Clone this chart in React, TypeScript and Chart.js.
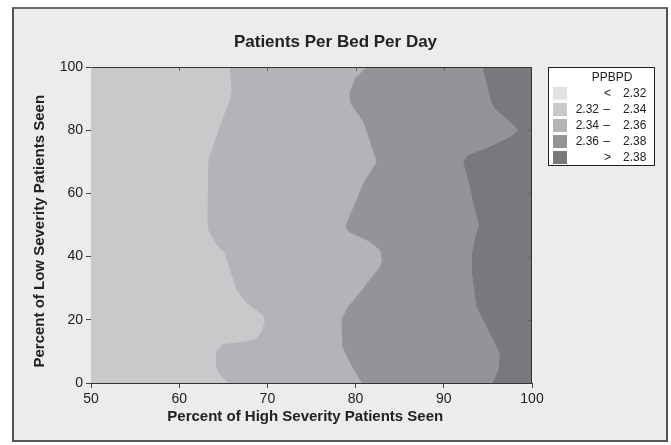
import React, { useEffect, useRef } from 'react';
import { Chart, registerables } from 'chart.js';

Chart.register(...registerables);

const FONT = '"Liberation Sans", Arial, Helvetica, sans-serif';

const chartTitle = 'Patients Per Bed Per Day';
const xTitle = 'Percent of High Severity Patients Seen';
const yTitle = 'Percent of Low Severity Patients Seen';
const legendTitle = 'PPBPD';

const xTicks = [50, 60, 70, 80, 90, 100];
const yTicks = [0, 20, 40, 60, 80, 100];

// contour levels and the fill colour of each band (< 2.32 ... > 2.38)
const levels = [2.32, 2.34, 2.36, 2.38];
const bandColors = ['#e1e2e4', '#c8c9cb', '#b3b4b8', '#939498', '#78797d'];

// contour line 2.34 (between band 2.32–2.34 and 2.34–2.36)
const c234Y = [0, 2.5, 5.2, 9.9, 12.3, 13.1, 13.8, 16.2, 19.4, 21.5, 25.2, 29.4, 35.8, 41, 43.7, 48.4, 51.6, 70.6, 82.7, 89.6, 92.7, 100];
const c234X = [65.57, 64.6, 64.17, 64.17, 65.0, 67.46, 68.6, 69.35, 69.7, 69.5, 67.65, 66.5, 65.76, 65.2, 64.25, 63.3, 63.2, 63.3, 64.8, 65.76, 65.95, 65.76];

// contour line 2.36
const c236Y = [0, 6.2, 11.5, 19.9, 23.6, 29.4, 36.8, 38.9, 42.1, 44.7, 47.9, 49.5, 57.9, 63.2, 70.0, 79.5, 82.7, 88.5, 91.7, 96.4, 100];
const c236X = [80.7, 79.4, 78.5, 78.4, 79.0, 80.7, 82.77, 83.0, 82.77, 81.6, 79.2, 78.8, 80.1, 80.87, 82.39, 81.26, 80.87, 79.4, 79.3, 79.93, 81.26];

// contour line 2.38
const c238Y = [0, 4.1, 8.9, 12.6, 18.9, 24.1, 34.7, 41.0, 45.3, 50.0, 56.9, 62.1, 70.0, 72.2, 74.8, 78.2, 80.1, 83.2, 86.9, 88.5, 94.8, 100];
const c238X = [95.5, 96.2, 96.37, 95.8, 94.67, 93.7, 93.2, 93.2, 93.5, 94.0, 93.35, 92.97, 92.2, 92.78, 95.24, 97.7, 98.45, 97.3, 95.8, 95.43, 94.86, 94.4];

const X_MIN = 50;
const X_MAX = 100;
const Y_MIN = 0;
const Y_MAX = 100;

function bandFromLine(xs: number[], ys: number[]) {
  const pts = xs.map((x, i) => ({ x, y: ys[i] }));
  pts.push({ x: X_MAX, y: Y_MAX });
  pts.push({ x: X_MAX, y: Y_MIN });
  return pts;
}

const legendPlugin = {
  id: 'contourLegend',
  afterDraw(chart: any) {
    const { ctx, chartArea } = chart;
    const bx = Math.round(chartArea.right) + 16;
    const by = Math.round(chartArea.top);
    const bw = 107;
    const bh = 99;
    ctx.save();
    ctx.fillStyle = '#ffffff';
    ctx.fillRect(bx, by, bw, bh);
    ctx.strokeStyle = '#222';
    ctx.lineWidth = 1;
    ctx.strokeRect(bx + 0.5, by + 0.5, bw - 1, bh - 1);
    ctx.fillStyle = '#222';
    ctx.font = `12px ${FONT}`;
    ctx.textBaseline = 'middle';
    ctx.textAlign = 'center';
    ctx.fillText(legendTitle, bx + 64, by + 11);
    for (let i = 0; i < bandColors.length; i++) {
      const top = by + 20 + i * 16;
      const cy = top + 6.5;
      ctx.fillStyle = bandColors[i];
      ctx.fillRect(bx + 5, top, 14, 13);
      ctx.fillStyle = '#222';
      if (i === 0) {
        ctx.textAlign = 'center';
        ctx.fillText('<', bx + 59.5, cy);
        ctx.textAlign = 'left';
        ctx.fillText(levels[0].toFixed(2), bx + 75, cy);
      } else if (i === bandColors.length - 1) {
        ctx.textAlign = 'center';
        ctx.fillText('>', bx + 59.5, cy);
        ctx.textAlign = 'left';
        ctx.fillText(levels[levels.length - 1].toFixed(2), bx + 75, cy);
      } else {
        ctx.textAlign = 'right';
        ctx.fillText(levels[i - 1].toFixed(2), bx + 51, cy);
        ctx.textAlign = 'center';
        ctx.fillText('–', bx + 58.5, cy);
        ctx.textAlign = 'left';
        ctx.fillText(levels[i].toFixed(2), bx + 75, cy);
      }
    }
    ctx.restore();
  },
};

const frameLinesPlugin = {
  id: 'frameLines',
  afterDatasetsDraw(chart: any) {
    const { ctx, chartArea, scales } = chart;
    ctx.save();
    ctx.strokeStyle = '#333';
    ctx.lineWidth = 1;
    ctx.beginPath();
    const l = Math.round(chartArea.left) + 0.5;
    const r = Math.round(chartArea.right) - 0.5;
    const t = Math.round(chartArea.top) + 0.5;
    ctx.moveTo(l, t);
    ctx.lineTo(r, t);
    ctx.lineTo(r, Math.round(chartArea.bottom));
    ctx.stroke();
    // small inward ticks on the top and right edges
    ctx.strokeStyle = '#555';
    ctx.beginPath();
    xTicks.slice(1, -1).forEach((v) => {
      const px = Math.round(scales.x.getPixelForValue(v)) + 0.5;
      ctx.moveTo(px, t);
      ctx.lineTo(px, t + 3);
    });
    yTicks.slice(1, -1).forEach((v) => {
      const py = Math.round(scales.y.getPixelForValue(v)) + 0.5;
      ctx.moveTo(r, py);
      ctx.lineTo(r - 3, py);
    });
    ctx.stroke();
    ctx.restore();
  },
};

export default function App() {
  const ref = useRef<HTMLCanvasElement>(null);

  useEffect(() => {
    if (!ref.current) return;
    const regions = [
      { data: bandFromLine(c238X, c238Y), color: bandColors[4] },
      { data: bandFromLine(c236X, c236Y), color: bandColors[3] },
      { data: bandFromLine(c234X, c234Y), color: bandColors[2] },
      {
        data: [
          { x: X_MIN, y: Y_MIN },
          { x: X_MIN, y: Y_MAX },
          { x: X_MAX, y: Y_MAX },
          { x: X_MAX, y: Y_MIN },
        ],
        color: bandColors[1],
      },
    ];
    const chart = new Chart(ref.current, {
      type: 'line',
      data: {
        datasets: regions.map((r) => ({
          data: r.data,
          backgroundColor: r.color,
          borderColor: 'rgba(0,0,0,0)',
          borderWidth: 0,
          pointRadius: 0,
          tension: 0,
          fill: 'shape',
        })),
      },
      options: {
        animation: false,
        responsive: false,
        events: [],
        layout: { padding: 0 },
        plugins: {
          legend: { display: false },
          tooltip: { enabled: false },
          title: {
            display: true,
            text: chartTitle,
            color: '#222',
            font: { family: FONT, size: 17, weight: 'bold' },
            padding: { top: 32, bottom: 14.6 },
          },
        },
        scales: {
          x: {
            type: 'linear',
            min: X_MIN,
            max: X_MAX,
            afterBuildTicks: (s: any) => {
              s.ticks = xTicks.map((v) => ({ value: v }));
            },
            ticks: { color: '#222', font: { family: FONT, size: 14 }, padding: 3, maxRotation: 0 },
            grid: { display: true, drawOnChartArea: false, drawTicks: true, tickLength: 5, color: '#444', tickColor: '#444' },
            border: { display: true, color: '#333', width: 1 },
            title: {
              display: true,
              text: xTitle + '\u00a0\u00a0\u00a0',
              color: '#222',
              font: { family: FONT, size: 15, weight: 'bold' },
              padding: { top: 0, bottom: 19 },
            },
            afterFit: (s: any) => {
              s.height = 62;
            },
          },
          y: {
            type: 'linear',
            position: 'left',
            min: Y_MIN,
            max: Y_MAX,
            afterBuildTicks: (s: any) => {
              s.ticks = yTicks.map((v) => ({ value: v }));
            },
            ticks: { color: '#222', font: { family: FONT, size: 14 }, padding: 3 },
            grid: { display: true, drawOnChartArea: false, drawTicks: true, tickLength: 5, color: '#444', tickColor: '#444' },
            border: { display: true, color: '#333', width: 1 },
            title: {
              display: true,
              text: yTitle + '\u00a0\u00a0\u00a0',
              color: '#222',
              font: { family: FONT, size: 15, weight: 'bold' },
              padding: { top: 31, bottom: 0 },
            },
            afterFit: (s: any) => {
              s.width = 91;
            },
          },
          yRight: {
            type: 'linear',
            position: 'right',
            display: true,
            grid: { display: false },
            ticks: { display: false },
            border: { display: false },
            afterFit: (s: any) => {
              s.width = 139;
            },
          },
        },
      } as any,
      plugins: [frameLinesPlugin, legendPlugin],
    });
    return () => chart.destroy();
  }, []);

  return (
    <div style={{ position: 'fixed', left: 0, top: 0, width: 671, height: 445, background: '#ffffff' }}>
      <div
        style={{
          position: 'absolute',
          left: 12,
          top: 7,
          width: 656,
          height: 435,
          boxSizing: 'border-box',
          borderTop: '2px solid #6a6a6a',
          borderLeft: '2px solid #555',
          borderRight: '2px solid #555',
          borderBottom: '2px solid #555',
          background: '#ececec',
        }}
      />
      <canvas ref={ref} width={671} height={445} style={{ position: 'absolute', left: 0, top: 0, display: 'block' }} />
    </div>
  );
}
